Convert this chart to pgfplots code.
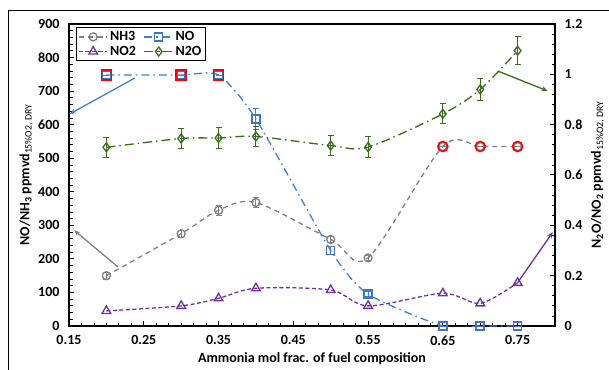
\documentclass[border=0pt]{standalone}
\usepackage{pgfplots}
\pgfplotsset{compat=1.18}
\usepackage{fontspec}
\setmainfont{Carlito}
\usetikzlibrary{arrows.meta}
\definecolor{cnh}{HTML}{808080}
\definecolor{cno}{HTML}{4472C4}
\definecolor{cnoline}{HTML}{3F7FD8}
\definecolor{cno2}{HTML}{7030A0}
\definecolor{cn2o}{HTML}{3A6B1E}
\pgfplotsset{
  nh3/.style={cnh, line width=1.3pt, dash pattern=on 5pt off 4pt, smooth, mark=o, mark size=4pt, mark options={solid, fill=white, line width=1.3pt}},
  no/.style={cnoline, line width=1.3pt, dash pattern=on 8pt off 4pt on 1.5pt off 4pt, smooth, tension=0.4, mark=square, mark size=4pt, mark options={cno, solid, fill=white, line width=1.5pt}},
  no2/.style={cno2, line width=1.3pt, dash pattern=on 4pt off 2.5pt, smooth, mark=triangle, mark size=5pt, mark options={solid, fill=white, line width=1.3pt}},
  n2o/.style={cn2o, line width=1.3pt, dash pattern=on 9pt off 4pt on 1.5pt off 4pt, smooth, mark=diamond, mark size=4.5pt, mark options={solid, fill=white, line width=1.3pt}},
  ebar/.style={error bars/.cd, y dir=both, y explicit, error bar style={line width=1pt, solid}, error mark options={rotate=90, mark size=3pt, line width=1pt, solid}},
  common/.style={at={(69pt,43pt)}, anchor=south west, scale only axis, width=486pt, height=302pt,
    xmin=0.15, xmax=0.8,
    tick label style={font=\bfseries\fontsize{14}{16}\selectfont},
    label style={font=\bfseries\fontsize{14}{16}\selectfont},
    /pgf/number format/assume math mode=true,
    axis line style={line width=1.6pt},
    major tick style={black, line width=1pt}, minor tick style={black, line width=0.8pt},
    major tick length=5pt, minor tick length=3.5pt, tick align=inside,
  },
}
\begin{document}
\begin{tikzpicture}[x=1pt,y=1pt]
\clip (0,0) rectangle (609,369);
\draw[line width=1pt] (8,-10) rectangle (640,358);
\begin{axis}[common,
  ymin=0, ymax=900, ytick={0,100,...,900}, minor y tick num=4,
  xtick={0.15,0.25,0.35,0.45,0.55,0.65,0.75},
  xticklabels={0.15,0.25,0.35,0.45,0.55,0.65,0.75},
  minor x tick num=5,
  xtick pos=bottom, ytick pos=left,
  xticklabel style={yshift=-6pt},
  yticklabel style={xshift=-6pt},
  xlabel={Ammonia mol frac. of fuel composition},
  xlabel style={at={(axis description cs:0.5,-0.108)}, anchor=center},
  ylabel={NO/NH\textsubscript{3} ppmvd\textsubscript{\mdseries 15\%O2, DRY}},
  ylabel style={at={(axis description cs:-0.088,0.5)}, anchor=center},
]
\addplot[nh3, ebar] coordinates {(0.2,150) +- (0,10) (0.3,275) +- (0,10) (0.35,345) +- (0,15) (0.4,368) +- (0,15) (0.5,258) +- (0,10) (0.55,203) +- (0,8) (0.65,535) +- (0,0) (0.7,535) +- (0,0) (0.75,535) +- (0,0)};
\addplot[no, ebar] coordinates {(0.2,748) +- (0,0) (0.3,748) +- (0,0) (0.35,748) +- (0,0) (0.4,617) +- (0,30) (0.5,225) +- (0,12) (0.55,95) +- (0,8) (0.65,0) +- (0,0) (0.7,0) +- (0,0) (0.75,0) +- (0,0)};
\addplot[only marks, mark=o, mark size=5pt, red, line width=1.6pt, mark options={fill=white}] coordinates {(0.65,535) (0.7,535) (0.75,535)};
\addplot[only marks, mark=square, mark size=5pt, red, line width=1.6pt, mark options={fill=white}] coordinates {(0.2,748) (0.3,748) (0.35,748)};
\draw[cnoline, line width=1.3pt, -{Stealth[length=6pt,width=5pt]}] (axis cs:0.238,739) -- (axis cs:0.151,632);
\draw[cnh, line width=1.3pt, -{Stealth[length=6pt,width=5pt]}] (axis cs:0.2155,176) -- (axis cs:0.157,285);
\end{axis}
\begin{axis}[common,
  ymin=0, ymax=1.2, ytick={0,0.2,...,1.2}, minor y tick num=4,
  yticklabels={0,0.2,0.4,0.6,0.8,1,1.2},
  yticklabel style={xshift=6pt},
  axis x line=none, axis y line*=right,
  ylabel={N\textsubscript{2}O/NO\textsubscript{2} ppmvd\textsubscript{\mdseries 15\%O2, DRY}},
  ylabel style={at={(axis description cs:1.088,0.5)}, anchor=center},
  legend columns=2,
  legend style={at={(axis description cs:0.014,0.99)}, anchor=north west, draw=black, line width=1pt,
    font=\bfseries\fontsize{14}{17}\selectfont, inner sep=2pt,
    /tikz/every even column/.append style={column sep=6pt}},
  legend image code/.code={\draw[mark repeat=2,mark phase=2] plot coordinates {(0cm,0cm) (0.5cm,0cm) (1.0cm,0cm)};},
  legend cell align=left,
]
\addlegendimage{nh3}
\addlegendentry{NH3}
\addlegendimage{no}
\addlegendentry{NO}
\addplot[no2] coordinates {(0.2,0.06) (0.3,0.08) (0.35,0.11) (0.4,0.15) (0.5,0.143) (0.55,0.08) (0.65,0.13) (0.7,0.09) (0.75,0.172)};
\addlegendentry{NO2}
\addplot[n2o, ebar] coordinates {(0.2,0.71) +- (0,0.04) (0.3,0.745) +- (0,0.04) (0.35,0.747) +- (0,0.04) (0.4,0.753) +- (0,0.04) (0.5,0.717) +- (0,0.04) (0.55,0.711) +- (0,0.04) (0.65,0.843) +- (0,0.04) (0.7,0.94) +- (0,0.045) (0.75,1.094) +- (0,0.055)};
\addlegendentry{N2O}
\draw[cn2o, line width=1.3pt, -{Stealth[length=6pt,width=5pt]}] (axis cs:0.7235,1.013) -- (axis cs:0.79,0.934);
\draw[cno2, line width=1.3pt, -{Stealth[length=6pt,width=5pt]}] (axis cs:0.75,0.172) -- (axis cs:0.797,0.373);
\end{axis}
\end{tikzpicture}
\end{document}
